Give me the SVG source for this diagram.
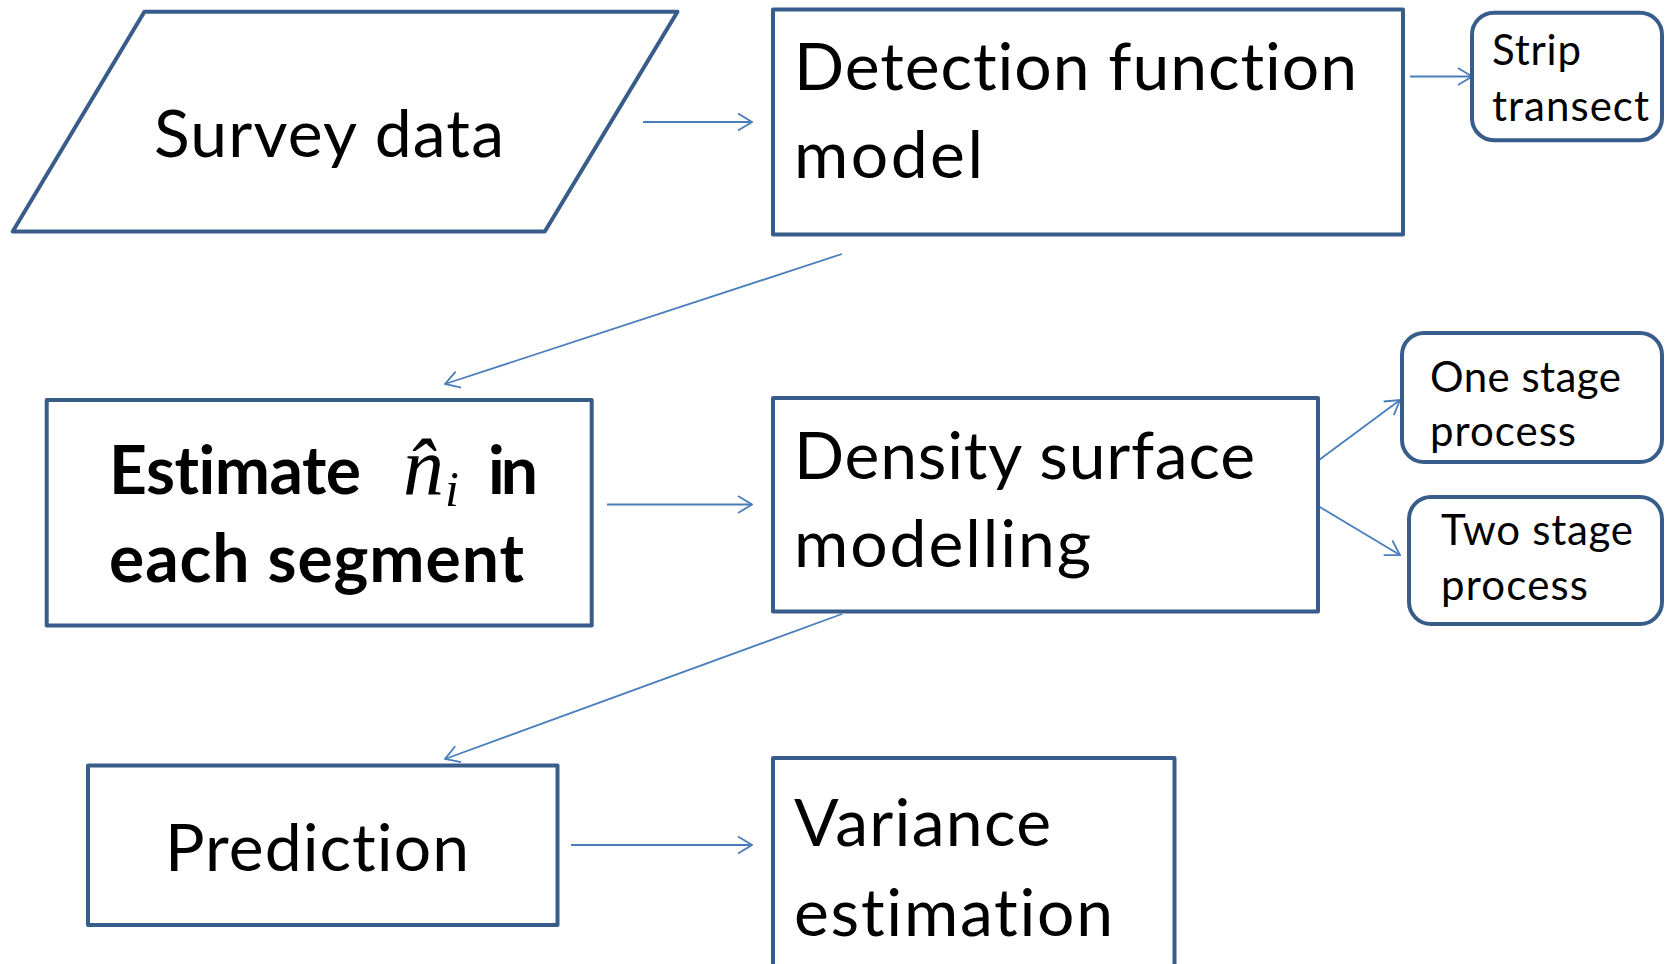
<svg xmlns="http://www.w3.org/2000/svg" width="1665" height="964" viewBox="0 0 1665 964">
<style>
.box{fill:#fff;stroke:#385D8A;stroke-width:4;stroke-linejoin:round}
.t{font-family:Lato,"Open Sans","Liberation Sans",sans-serif;fill:#000;font-variant-ligatures:none;font-feature-settings:"liga" 0,"clig" 0}
.big{font-size:66px}
.sm{font-size:42px}
.con{fill:none;stroke:#4A7EBB;stroke-width:1.8;marker-end:url(#ah)}
.math{font-family:"Liberation Serif","DejaVu Serif",serif;font-style:italic;fill:#000}
</style>
<defs>
<marker id="ah" viewBox="0 0 16 20" refX="15" refY="10" markerWidth="16" markerHeight="20" markerUnits="userSpaceOnUse" orient="auto">
<path d="M1,1.5 L15,10 L1,18.5" fill="none" stroke="#4A7EBB" stroke-width="1.8"/>
</marker>
</defs>
<rect width="1665" height="964" fill="#fff"/>
<g id="connectors">
<line class="con" x1="643" y1="122" x2="752" y2="122"/>
<line class="con" x1="1410" y1="76.5" x2="1472" y2="76.5"/>
<line class="con" x1="842" y1="254" x2="445" y2="384"/>
<line class="con" x1="607" y1="504.5" x2="752" y2="504.5"/>
<line class="con" x1="1319" y1="460" x2="1400" y2="400"/>
<line class="con" x1="1319" y1="506.5" x2="1400" y2="555"/>
<line class="con" x1="842" y1="614" x2="445" y2="759"/>
<line class="con" x1="571" y1="845" x2="752" y2="845"/>
</g>
<g id="survey">
<polygon class="box" points="144.4,11.7 677.5,11.7 544.8,231.5 12.7,231.5"/>
<text class="t big" x="154" y="157" textLength="350">Survey data</text>
</g>
<g id="detection">
<rect class="box" x="773" y="9.6" width="630" height="225"/>
<text class="t big" x="794" y="90" textLength="563">Detection function</text>
<text class="t big" x="794" y="178" textLength="189">model</text>
</g>
<g id="strip">
<rect class="box" x="1472" y="12.7" width="190" height="127.5" rx="22"/>
<text class="t sm" x="1492" y="65" textLength="89">Strip</text>
<text class="t sm" x="1492" y="121" textLength="157">transect</text>
</g>
<g id="estimate">
<rect class="box" x="46.7" y="400" width="545" height="225.5"/>
<text class="t big" font-weight="bold" x="109" y="494" textLength="252">Estimate</text>
<text class="math" font-size="82" x="403" y="494">n̂</text>
<text class="math" font-size="50" x="445" y="506">i</text>
<text class="t big" font-weight="bold" x="488" y="494" textLength="50">in</text>
<text class="t big" font-weight="bold" x="109" y="582" textLength="415">each segment</text>
</g>
<g id="density">
<rect class="box" x="773" y="398" width="545" height="213.5"/>
<text class="t big" x="794" y="479" textLength="461">Density surface</text>
<text class="t big" x="794" y="567" textLength="297">modelling</text>
</g>
<g id="onestage">
<rect class="box" x="1402" y="333" width="260" height="129" rx="22"/>
<text class="t sm" x="1430" y="392" textLength="191">One stage</text>
<text class="t sm" x="1430" y="446" textLength="146">process</text>
</g>
<g id="twostage">
<rect class="box" x="1409" y="497" width="253" height="127" rx="22"/>
<text class="t sm" x="1441" y="545" textLength="192">Two stage</text>
<text class="t sm" x="1441" y="600" textLength="147">process</text>
</g>
<g id="prediction">
<rect class="box" x="88" y="765.6" width="469.5" height="159.4"/>
<text class="t big" x="165" y="871" textLength="304">Prediction</text>
</g>
<g id="variance">
<rect class="box" x="773" y="758" width="401.5" height="220"/>
<text class="t big" x="794" y="846" textLength="257">Variance</text>
<text class="t big" x="794" y="935.5" textLength="319">estimation</text>
</g>
</svg>
